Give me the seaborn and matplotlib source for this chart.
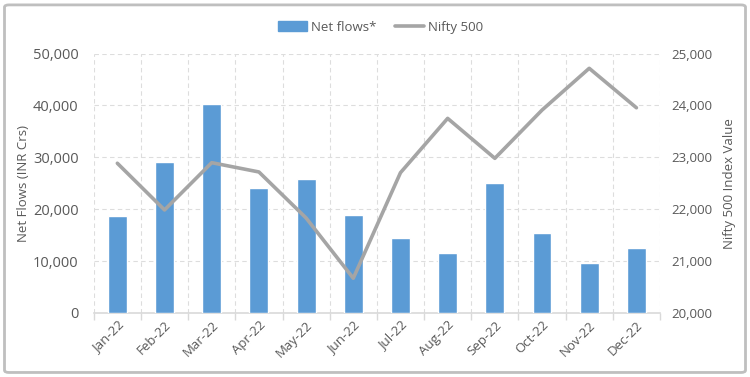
import matplotlib
matplotlib.use("Agg")
import matplotlib.pyplot as plt
import seaborn as sns
import pandas as pd
from matplotlib.patches import FancyBboxPatch, Patch
from matplotlib.lines import Line2D
from matplotlib.ticker import FuncFormatter, MultipleLocator

months = ["Jan-22", "Feb-22", "Mar-22", "Apr-22", "May-22", "Jun-22",
          "Jul-22", "Aug-22", "Sep-22", "Oct-22", "Nov-22", "Dec-22"]
net_flows = [18700, 29000, 40350, 24000, 25800, 18900,
             14400, 11500, 25000, 15500, 9700, 12600]
nifty500 = [22885, 21985, 22896, 22717, 21830, 20668,
            22703, 23750, 22980, 23910, 24715, 23955]

df = pd.DataFrame({"Month": months, "Net flows*": net_flows, "Nifty 500": nifty500})

sns.set_theme(style="white")
plt.rcParams["font.family"] = ["Open Sans", "DejaVu Sans"]

TXT = "#595959"
BAR = "#5B9BD5"
LINE = "#A5A5A5"

fig = plt.figure(figsize=(7.5, 3.77), dpi=100)
ax = fig.add_axes([0.125, 0.170, 0.755, 0.688])

sns.barplot(data=df, x="Month", y="Net flows*", color=BAR, width=0.4,
            saturation=1, ax=ax, zorder=3)
ax2 = ax.twinx()
sns.lineplot(data=df, x="Month", y="Nifty 500", color=LINE, linewidth=2.6,
             ax=ax2, sort=False, zorder=4)

ax.set_xlim(-0.5, 11.5)
ax.set_ylim(0, 50000)
ax2.set_ylim(20000, 25000)
ax.yaxis.set_major_locator(MultipleLocator(10000))
ax2.yaxis.set_major_locator(MultipleLocator(1000))
fmt = FuncFormatter(lambda v, p: f"{int(v):,}")
ax.yaxis.set_major_formatter(fmt)
ax2.yaxis.set_major_formatter(fmt)

for a in (ax, ax2):
    for s in a.spines.values():
        s.set_visible(False)
ax.spines["bottom"].set_visible(True)
ax.spines["bottom"].set_color("#D9D9D9")
ax.spines["bottom"].set_linewidth(1.2)

# grid
ax.set_xticks([i + 0.5 for i in range(-1, 12)], minor=True)
ax.grid(axis="y", which="major", color="#DDDDDD", linestyle=(0, (4, 3)), linewidth=0.8, zorder=0)
ax.grid(axis="x", which="minor", color="#DDDDDD", linestyle=(0, (4, 3)), linewidth=0.8, zorder=0)
ax.grid(axis="x", which="major", visible=False)
ax.set_axisbelow(True)

ax.tick_params(axis="x", which="minor", length=5, color="#D9D9D9", width=1, bottom=True)
ax.tick_params(axis="x", which="major", length=0, labelsize=9.5, labelcolor=TXT, pad=4)
ax.tick_params(axis="y", length=0, labelsize=10.5, labelcolor=TXT, pad=11)
ax2.tick_params(axis="y", length=0, labelsize=9.5, labelcolor=TXT, pad=8)
for lab in ax.get_xticklabels():
    lab.set_rotation(45)
    lab.set_ha("right")
    lab.set_rotation_mode("anchor")

ax.set_xlabel("")
ax.set_ylabel("Net Flows (INR Crs)", fontsize=9.5, color=TXT, labelpad=2)
ax2.set_ylabel("Nifty 500 Index Value", fontsize=9.5, color=TXT, labelpad=8)

handles = [Patch(facecolor=BAR, edgecolor=BAR),
           Line2D([0], [0], color=LINE, linewidth=2.6)]
fig.legend(handles, ["Net flows*", "Nifty 500"], loc="center",
           bbox_to_anchor=(0.507, 0.928), ncol=2, frameon=False,
           fontsize=9.5, labelcolor=TXT, handlelength=2.2, handletextpad=0.3,
           columnspacing=1.4)

border = FancyBboxPatch((0.006, 0.012), 0.988, 0.975, transform=fig.transFigure,
                        boxstyle="round,pad=0,rounding_size=0.006",
                        facecolor="none", edgecolor="#BFBFBF", linewidth=2)
fig.patches.append(border)

fig.savefig("out.png", dpi=100, facecolor="white")
